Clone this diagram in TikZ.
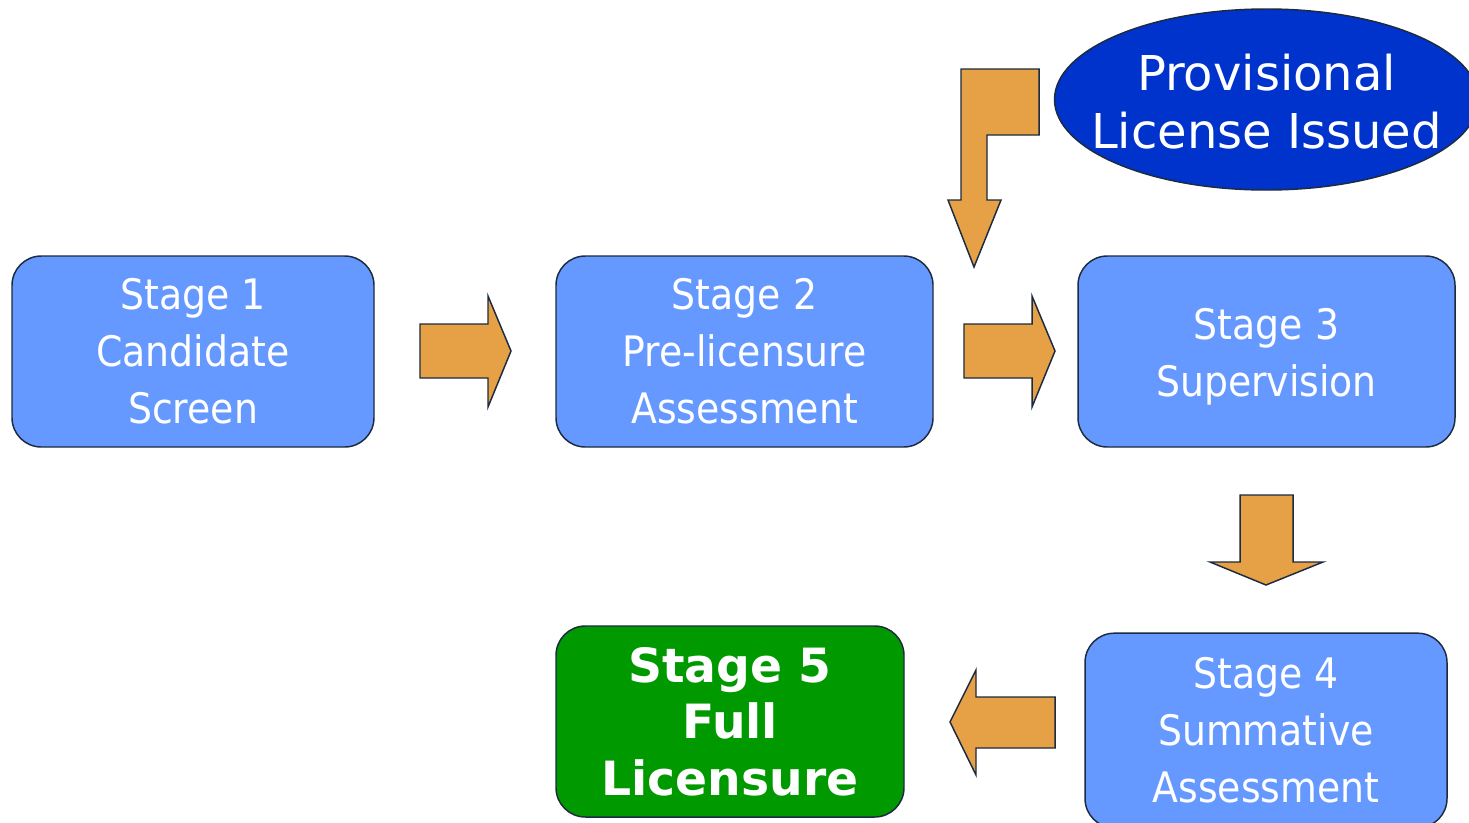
\documentclass[tikz,border=0pt]{standalone}
\usepackage{fontspec}
\setmainfont{DejaVu Sans}
\newfontfamily\condfont{DejaVu Sans Condensed}
\usetikzlibrary{shapes.geometric}
\definecolor{boxblue}{HTML}{6699FF}
\definecolor{provblue}{HTML}{0033CC}
\definecolor{arroworange}{HTML}{E6A045}
\definecolor{edgenavy}{HTML}{1C2B40}
\definecolor{stagegreen}{HTML}{009900}
\tikzset{
  stagebox/.style={draw=edgenavy, line width=1.1pt, fill=boxblue, rounded corners=22pt,
    minimum height=143.25pt, inner sep=0pt, text=white, align=center,
    font=\condfont\fontsize{31.5}{42.75}\selectfont},
  blockarrow/.style={draw=edgenavy, line width=1.1pt, fill=arroworange, line join=miter},
}
\begin{document}
\begin{tikzpicture}[x=0.75pt, y=-0.75pt]
\clip (0,0) rectangle (1469,822);
\useasboundingbox (0,0) rectangle (1469,822);
\fill[white] (0,0) rectangle (1469,822);

% stage boxes
\node[stagebox, minimum width=271.5pt] (s1) at (193,351.5) {Stage 1\\Candidate\\Screen};
\node[stagebox, minimum width=282.75pt] (s2) at (744.5,351.5) {Stage 2\\Pre-licensure\\Assessment};
\node[stagebox, minimum width=282.75pt] (s3) at (1266.5,351.5)
  {\raisebox{-3.75pt}[\height][\depth]{\begin{tabular}{@{}c@{}}Stage 3\\Supervision\end{tabular}}};
\node[stagebox, minimum width=271.5pt, minimum height=146pt] (s4) at (1266,730.5) {Stage 4\\Summative\\Assessment};
\node[stagebox, fill=stagegreen, minimum width=261pt,
      font=\bfseries\fontsize{35.4}{42.4}\selectfont] (s5) at (730,721.5) {Stage 5\\Full\\Licensure};

% provisional license ellipse
\node[ellipse, draw=edgenavy, line width=1.1pt, fill=provblue, inner sep=0pt,
      minimum width=318pt, minimum height=135.75pt] (prov) at (1266.5,99.5) {};
\node[text=white, align=center, font=\fontsize{36}{43.5}\selectfont] (provtext) at (1266.5,101.5)
  {Provisional\\License Issued};

% block arrows
\draw[blockarrow] (420,324) -- (488,324) -- (488,296) -- (511,351) -- (488,407) -- (488,378) -- (420,378) -- cycle;
\draw[blockarrow] (964,324) -- (1032,324) -- (1032,296) -- (1055,351) -- (1032,407) -- (1032,378) -- (964,378) -- cycle;
\draw[blockarrow] (1240,495) -- (1293,495) -- (1293,562) -- (1323,562) -- (1266,585) -- (1210,562) -- (1240,562) -- cycle;
\draw[blockarrow] (1055,697) -- (976,697) -- (976,670) -- (950,722) -- (976,775) -- (976,748) -- (1055,748) -- cycle;
\draw[blockarrow] (961,69) -- (1039,69) -- (1039,135) -- (987,135) -- (987,200) -- (1001,200) -- (974,267) -- (948,200) -- (961,200) -- cycle;
\end{tikzpicture}
\end{document}
